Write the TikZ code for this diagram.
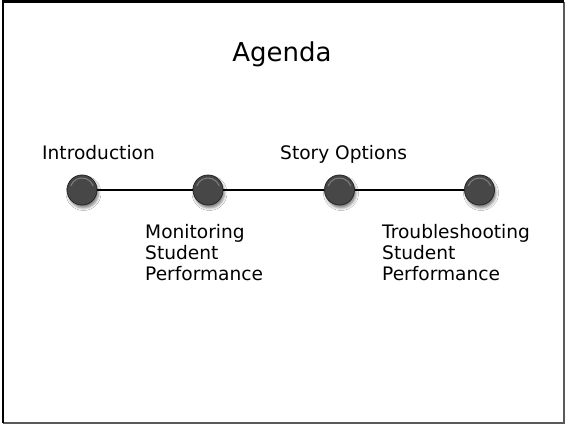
\documentclass[tikz,border=0pt]{standalone}
\usepackage{fontspec}
\setmainfont{DejaVu Sans}
\usetikzlibrary{shadows.blur}
\begin{document}
\begin{tikzpicture}[x=1pt,y=1pt,
  ball/.style={circle, minimum size=30pt, inner sep=0pt, fill=black!72, draw=black!85, line width=0.8pt,
    blur shadow={shadow xshift=1.5pt, shadow yshift=-3pt, shadow blur radius=2.5pt, shadow opacity=50}},
  lbl/.style={anchor=base west, inner sep=0pt, font=\fontsize{18.6}{21}\selectfont, align=left},
  link/.style={line width=1.8pt, black}]
\useasboundingbox (0,0) rectangle (565,424);
\fill[white] (0,0) rectangle (565,424);
% frame
\draw[black!65, line width=2pt] (3,1) -- (564,1) -- (564,422);
\draw[black, line width=2.4pt] (3,1) -- (3,422.5) -- (564,422.5);
% title
\node[anchor=base, inner sep=0pt, font=\fontsize{26}{30}\selectfont] (title) at (282,362) {Agenda};
% balls
\node[ball] (c1) at (82,234) {};
\node[ball] (c2) at (208,234) {};
\node[ball] (c3) at (339.5,234) {};
\node[ball] (c4) at (479.5,234) {};
\draw[link] (c1) -- (c2);
\draw[link] (c2) -- (c3);
\draw[link] (c3) -- (c4);
\foreach \n in {c1,c2,c3,c4}{
  \draw[white, opacity=0.3, line width=1pt] ([shift={(160:12pt)}]\n.center) arc (160:20:12pt);
}
% labels
\node[lbl] (l1) at (42,265) {Introduction};
\node[lbl] (l3) at (280,265) {Story Options};
\node[lbl] (l2) at (145,144) {Monitoring\\Student\\Performance};
\node[lbl] (l4) at (382,144) {Troubleshooting\\Student\\Performance};
\end{tikzpicture}
\end{document}
